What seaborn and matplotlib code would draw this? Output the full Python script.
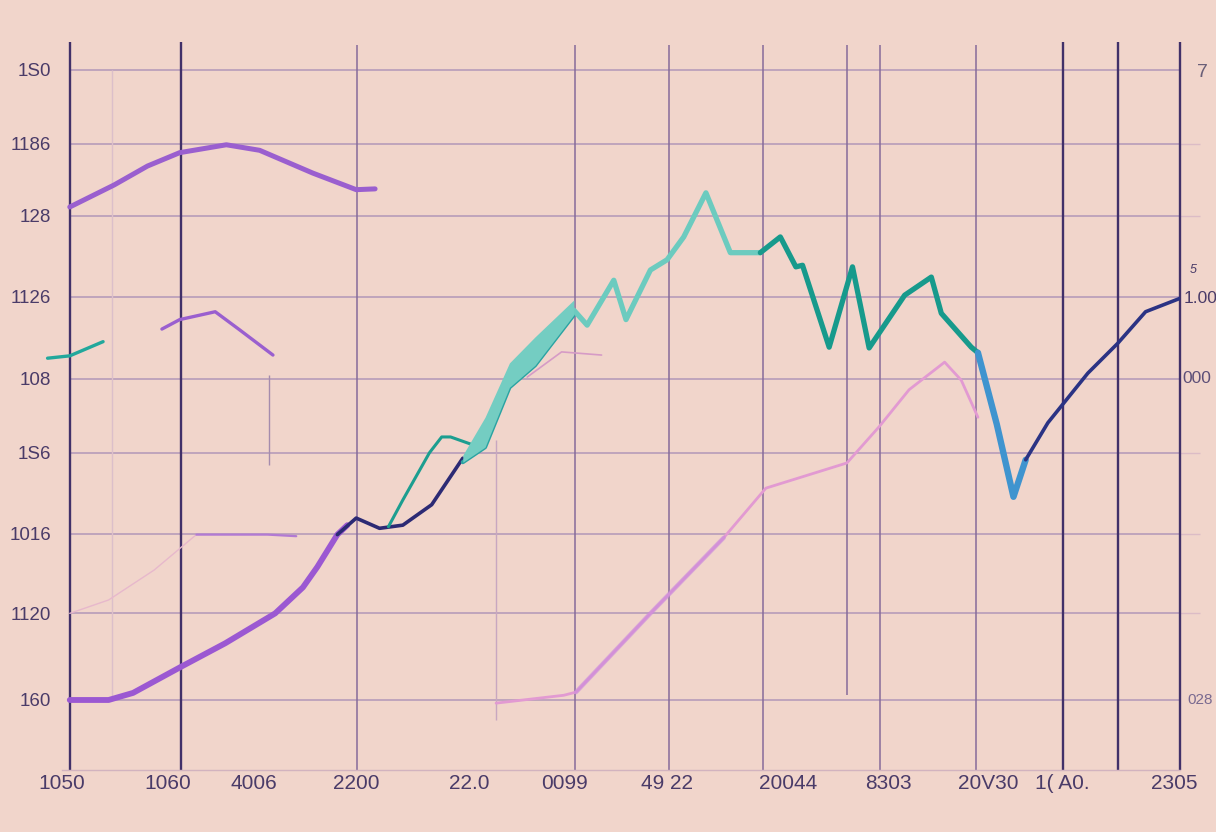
import matplotlib
matplotlib.use('Agg')
import matplotlib.pyplot as plt
import seaborn as sns

# ---- values (x: 0-100 across the axes, y: grid rows 0-8) ----
arc_top_x = [0, 4.0, 7.0, 9.9, 14.1, 17.1, 21.9, 25.8, 27.5]
arc_top_y = [6.26, 6.54, 6.78, 6.95, 7.05, 6.98, 6.69, 6.48, 6.49]

arc_small_x = [8.3, 9.9, 13.1, 15.3, 18.3]
arc_small_y = [4.71, 4.83, 4.93, 4.70, 4.38]

teal_stub_x = [-2.0, 0, 3.0]
teal_stub_y = [4.34, 4.37, 4.55]

rise_x = [0, 3.5, 5.7, 10.0, 14.0, 18.5, 21.0, 22.3, 24.1, 25.0]
rise_y = [0, 0, 0.09, 0.42, 0.72, 1.10, 1.43, 1.69, 2.10, 2.22]

navy_x = [24.1, 25.8, 27.9, 30.0, 32.6, 35.4]
navy_y = [2.10, 2.31, 2.18, 2.22, 2.48, 3.07]

loop_x = [28.7, 30.0, 32.4, 33.5, 34.3, 36.3, 37.0]
loop_y = [2.20, 2.54, 3.14, 3.34, 3.34, 3.24, 3.18]

band_x = [35.4, 37.4, 39.6, 41.9, 45.4]
band_hi = [3.11, 3.59, 4.28, 4.61, 5.08]
band_lo = [3.02, 3.21, 3.97, 4.25, 4.89]

peak_x = [45.4, 46.6, 49.0, 50.1, 52.3, 53.8, 55.3, 57.3, 59.5, 62.2]
peak_y = [4.95, 4.76, 5.33, 4.83, 5.46, 5.59, 5.88, 6.44, 5.68, 5.68]

zig_x = [62.2, 64.0, 65.4, 66.0, 68.4, 70.5, 72.0, 75.2, 77.6, 78.5, 81.2, 81.8]
zig_y = [5.68, 5.88, 5.50, 5.52, 4.48, 5.50, 4.47, 5.14, 5.37, 4.91, 4.48, 4.41]

dip_x = [81.8, 83.5, 85.0, 86.1]
dip_y = [4.41, 3.50, 2.58, 3.05]

end_x = [86.1, 88.1, 91.7, 94.4, 96.9, 100]
end_y = [3.05, 3.52, 4.15, 4.53, 4.93, 5.10]

pink_x = [38.4, 44.5, 45.6, 52.3, 58.9, 62.7, 70.0, 72.9, 75.6, 78.8, 80.3, 81.8]
pink_y = [-0.04, 0.06, 0.10, 1.10, 2.06, 2.69, 3.01, 3.47, 3.94, 4.29, 4.06, 3.59]

faint_left_x = [0, 3.5, 7.6, 11.4]
faint_left_y = [1.10, 1.27, 1.65, 2.10]
flat_x = [11.4, 17.8, 20.4]
flat_y = [2.10, 2.10, 2.08]

faint_mid_x = [41.2, 44.3, 47.9]
faint_mid_y = [4.10, 4.42, 4.38]

ytick_labels = ['160', '1120', '1016', '1S6', '108', '1126', '128', '1186', '1S0']
xtick_labels = ['1050', '1060', '4006', '2200', '22.0', '0099', '49 22',
                '20044', '8303', '20V30', '1( A0.', '2305']
right_labels = ['7', '1.00', '000', '028']

# ---- layout / style ----
bg = '#f1d5cb'
ink = '#4a3b68'
grid = '#b79cb9'
dark = '#413069'

ytick_pos = [0, 1.10, 2.11, 3.14, 4.08, 5.12, 6.15, 7.06, 8.0]
xtick_pos = [-0.7, 8.8, 16.6, 25.8, 36.0, 44.6, 53.8, 64.7, 73.7, 82.7, 89.4, 99.5]

sns.set_style('white')
plt.rcParams['font.family'] = ['Liberation Sans', 'DejaVu Sans']

fig = plt.figure(figsize=(12.16, 8.32), dpi=100, facecolor=bg)
ax = fig.add_axes([62 / 1216, 1 - 770 / 832, 1118 / 1216, 725 / 832])
ax.set_facecolor(bg)
ax.set_xlim(0, 100)
ax.set_ylim(-0.889, 8.317)

# grid
ax.hlines(ytick_pos, 0, 100, color=grid, lw=1.2, zorder=1)
ax.hlines([7.06, 6.15, 3.14, 2.11, 1.10], 100, 101.8, color='#dcbcc6', lw=1, clip_on=False)
ax.vlines([0, 10.02, 89.45, 94.45, 100], -0.889, 8.35, color=dark, lw=1.7, zorder=2, clip_on=False)
ax.vlines([25.85, 45.53, 53.94, 62.43, 72.99, 81.66], -0.889, 8.32, color='#866b9a', lw=1.1, zorder=1)
ax.vlines([70.04], 0.06, 8.32, color='#866b9a', lw=1.1, zorder=1)
ax.vlines([3.76], 0, 8.0, color='#dcbfca', lw=1, zorder=1)
ax.vlines([17.9], 2.98, 4.13, color='#a58cad', lw=1, zorder=1)
ax.vlines([38.37], -0.25, 3.30, color='#c8a7c0', lw=1, zorder=1)

# faint background strokes
sns.lineplot(x=faint_left_x, y=faint_left_y, sort=False, estimator=None, color='#e7b8cc', lw=1, ax=ax)
sns.lineplot(x=flat_x, y=flat_y, sort=False, estimator=None, color='#b27ad3', lw=1.6, ax=ax)
sns.lineplot(x=faint_mid_x, y=faint_mid_y, sort=False, estimator=None, color='#d69bc6', lw=1.2, ax=ax)

# purple arcs
sns.lineplot(x=arc_top_x, y=arc_top_y, sort=False, estimator=None, color='#9a5fcf', lw=3.6, ax=ax)
sns.lineplot(x=arc_small_x, y=arc_small_y, sort=False, estimator=None, color='#9a5fcf', lw=2.4, ax=ax)
sns.lineplot(x=teal_stub_x, y=teal_stub_y, sort=False, estimator=None, color='#22a89c', lw=2.4, ax=ax)
ax.lines[-1].set_clip_on(False)

# pink line
sns.lineplot(x=pink_x, y=pink_y, sort=False, estimator=None, color='#e29ad2', lw=2.0, ax=ax)
sns.lineplot(x=pink_x[2:5], y=pink_y[2:5], sort=False, estimator=None, color='#c98add', lw=3.2, alpha=0.6, ax=ax)

# main line
sns.lineplot(x=rise_x, y=rise_y, sort=False, estimator=None, color='#9b58d2', lw=4.2, ax=ax)
sns.lineplot(x=navy_x, y=navy_y, sort=False, estimator=None, color='#2c2a74', lw=2.6, ax=ax)
sns.lineplot(x=loop_x, y=loop_y, sort=False, estimator=None, color='#1c9e90', lw=2.2, ax=ax)
ax.fill_between(band_x, band_lo, band_hi, color='#74cdc2', lw=0, zorder=3)
sns.lineplot(x=band_x, y=band_lo, sort=False, estimator=None, color='#2aa3a2', lw=3.0, ax=ax)
sns.lineplot(x=peak_x, y=peak_y, sort=False, estimator=None, color='#6ccbbf', lw=3.8, ax=ax)
sns.lineplot(x=zig_x, y=zig_y, sort=False, estimator=None, color='#179a8c', lw=3.8, ax=ax)
sns.lineplot(x=dip_x, y=dip_y, sort=False, estimator=None, color='#3f94cf', lw=4.6, ax=ax)
sns.lineplot(x=end_x, y=end_y, sort=False, estimator=None, color='#2b3384', lw=2.6, ax=ax)

# ticks
ax.set_yticks(ytick_pos)
ax.set_yticklabels(ytick_labels, fontsize=13.5, color=ink)
ax.set_xticks(xtick_pos)
ax.set_xticklabels(xtick_labels, fontsize=15, color=ink)
ax.tick_params(axis='y', length=0, pad=8)
ax.tick_params(axis='x', length=0, pad=3)
for lbl in ax.get_xticklabels():
    lbl.set_bbox(dict(facecolor=bg, edgecolor='none', pad=3))

for s in ['left', 'right', 'top']:
    ax.spines[s].set_visible(False)
ax.spines['bottom'].set_color('#d2b3bf')
ax.spines['bottom'].set_linewidth(1)

# right-hand labels
ax.text(101.5, 7.97, right_labels[0], fontsize=14, color='#6a5f78', va='center', ha='left', clip_on=False)
ax.text(100.9, 5.46, '5', fontsize=9, color=ink, style='italic', va='center', ha='left', clip_on=False)
ax.text(100.3, 5.10, right_labels[1], fontsize=12.5, color=ink, va='center', ha='left', clip_on=False)
ax.text(100.25, 4.08, right_labels[2], fontsize=12.5, color='#5d4f78', va='center', ha='left', clip_on=False)
ax.text(100.7, 0.0, right_labels[3], fontsize=11, color='#7a6a90', va='center', ha='left', clip_on=False)

fig.savefig('out.png', dpi=100, facecolor=bg)
